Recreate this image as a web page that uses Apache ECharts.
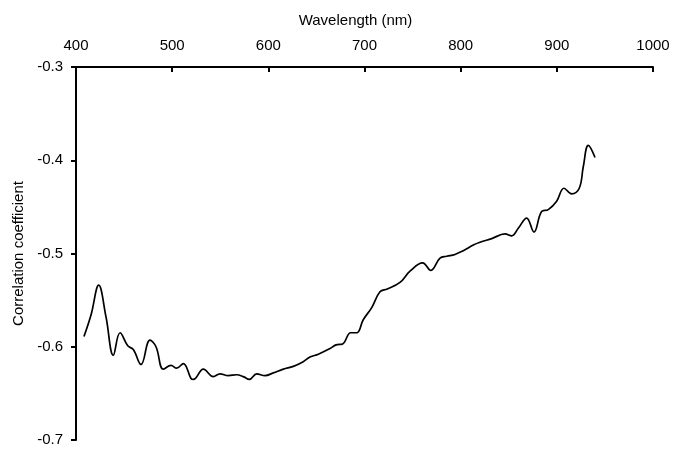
<!DOCTYPE html>
<html>
<head>
<meta charset="utf-8">
<script src="https://cdn.jsdelivr.net/npm/echarts@6/dist/echarts.min.js"></script>
<style>html,body{margin:0;padding:0;background:#fff;}#c{width:673px;height:449px;}</style>
</head>
<body>
<div id="c"></div>
<script>
const wavelengths = [408.3,415.6,423.6,431.2,438.8,445.8,453.8,459.6,467.6,476.9,483.2,490.8,498.8,504.7,511.6,519.6,522,532.4,542.8,549.7,558.4,567.1,574,580.2,587.9,596.5,605.2,615.6,626,636.3,643.3,652,664.1,670.4,677.3,685.6,691.9,698.7,707.5,716.1,723.7,736.9,747.3,760.5,768.8,778.5,785.5,794.1,802.7,813.1,820.1,832.3,846.1,853.1,859.9,868.6,876.2,884.2,891.1,899.8,907.4,915.4,923.3,927.5,932.7,939.7];
const correlation = [-0.589,-0.566,-0.534,-0.568,-0.609,-0.585,-0.599,-0.603,-0.619,-0.593,-0.600,-0.624,-0.620,-0.623,-0.618,-0.634,-0.635,-0.624,-0.632,-0.629,-0.631,-0.630,-0.632,-0.635,-0.629,-0.631,-0.628,-0.624,-0.621,-0.616,-0.611,-0.608,-0.602,-0.598,-0.597,-0.585,-0.585,-0.571,-0.558,-0.541,-0.538,-0.531,-0.519,-0.510,-0.518,-0.505,-0.503,-0.501,-0.497,-0.491,-0.488,-0.484,-0.479,-0.481,-0.473,-0.462,-0.477,-0.455,-0.453,-0.444,-0.430,-0.436,-0.430,-0.407,-0.384,-0.397];
const xTicks = [400,500,600,700,800,900,1000];
const yTicks = [-0.7,-0.6,-0.5,-0.4,-0.3];

const font = 'Liberation Sans, Arial, sans-serif';
const chart = echarts.init(document.getElementById('c'), null, {renderer:'canvas'});
chart.setOption({
  animation:false,
  backgroundColor:'#fff',
  grid:{left:76,right:20,top:67,bottom:9,containLabel:false},
  xAxis:{
    type:'value', position:'top', min:xTicks[0], max:xTicks[xTicks.length-1], interval:100,
    name:'Wavelength (nm)', nameLocation:'middle', nameGap:39,
    nameTextStyle:{color:'#000',fontFamily:font,fontSize:15,padding:[0,18,0,0]},
    axisLine:{show:true,onZero:false,lineStyle:{color:'#000',width:2}},
    axisTick:{show:true,inside:true,length:5,lineStyle:{color:'#000',width:2}},
    axisLabel:{color:'#000',fontFamily:font,fontSize:15,margin:14,formatter:v=>String(v)},
    splitLine:{show:false}
  },
  yAxis:{
    type:'value', min:yTicks[0], max:yTicks[yTicks.length-1], interval:0.1,
    name:'Correlation coefficient', nameLocation:'middle', nameGap:47,
    nameTextStyle:{color:'#000',fontFamily:font,fontSize:15},
    axisLine:{show:true,onZero:false,lineStyle:{color:'#000',width:2}},
    axisTick:{show:true,inside:false,length:5,lineStyle:{color:'#000',width:2}},
    axisLabel:{color:'#000',fontFamily:font,fontSize:15,margin:13,formatter:v=>v.toFixed(1)},
    splitLine:{show:false}
  },
  series:[{
    type:'line', smooth:0.4, symbol:'none',
    data:wavelengths.map((w,i)=>[w,correlation[i]]),
    lineStyle:{color:'#000',width:1.7}
  }]
});
</script>
</body>
</html>
